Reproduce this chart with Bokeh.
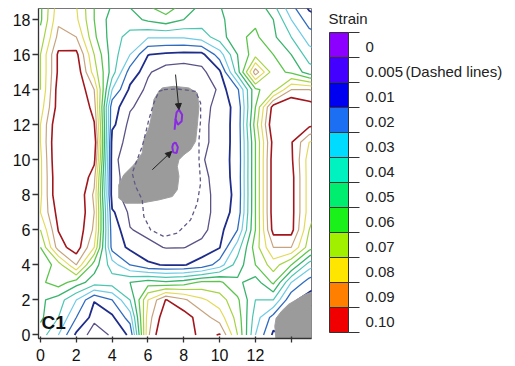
import numpy as np
from bokeh.plotting import figure
from bokeh.layouts import row
from bokeh.models import Range1d, FixedTicker, Arrow, NormalHead, ColumnDataSource, Label
from bokeh.core.properties import value
from bokeh.embed import file_html
from bokeh.resources import INLINE

# ---------------- data ----------------
x_grid = list(range(0, 17))
y_grid = list(range(0, 20))

# strain values at integer grid nodes, x = 0..16
row_y00 = [0.045, 0.030, 0.008, 0.003, 0.0055, 0.011, 0.088, 0.115, 0.110, 0.095, 0.101, 0.070, 0.030, 0.008, 0.012, 0.003, 0.003]
row_y01 = [0.052, 0.040, 0.020, 0.006, 0.008, 0.025, 0.085, 0.108, 0.105, 0.095, 0.085, 0.066, 0.035, 0.016, 0.0045, 0.003, 0.003]
row_y02 = [0.052, 0.045, 0.030, 0.0105, 0.020, 0.040, 0.080, 0.1005, 0.092, 0.082, 0.075, 0.062, 0.040, 0.040, 0.012, 0.006, 0.0055]
row_y03 = [0.058, 0.065, 0.055, 0.045, 0.045, 0.050, 0.055, 0.052, 0.055, 0.062, 0.062, 0.052, 0.045, 0.062, 0.030, 0.015, 0.010]
row_y04 = [0.052, 0.065, 0.090, 0.055, 0.035, 0.020, 0.011, 0.0095, 0.0095, 0.013, 0.025, 0.045, 0.060, 0.075, 0.060, 0.035, 0.025]
row_y05 = [0.060, 0.095, 0.106, 0.080, 0.016, 0.008, 0.006, 0.0048, 0.0049, 0.006, 0.0095, 0.035, 0.065, 0.090, 0.090, 0.065, 0.050]
row_y06 = [0.070, 0.1005, 0.108, 0.088, 0.014, 0.0052, 0.004, 0.003, 0.003, 0.004, 0.007, 0.020, 0.060, 0.104, 0.104, 0.070, 0.055]
row_y07 = [0.080, 0.104, 0.110, 0.090, 0.011, 0.004, 0.003, 0.002, 0.002, 0.004, 0.006, 0.013, 0.060, 0.106, 0.104, 0.075, 0.060]
row_y08 = [0.078, 0.110, 0.110, 0.088, 0.0058, 0.004, 0.002, 0.002, 0.002, 0.004, 0.006, 0.012, 0.060, 0.106, 0.104, 0.075, 0.060]
row_y09 = [0.078, 0.110, 0.115, 0.093, 0.0058, 0.004, 0.002, 0.002, 0.002, 0.004, 0.0065, 0.0125, 0.060, 0.106, 0.104, 0.075, 0.060]
row_y10 = [0.078, 0.112, 0.120, 0.103, 0.0055, 0.004, 0.003, 0.002, 0.0025, 0.0045, 0.0075, 0.012, 0.060, 0.106, 0.102, 0.075, 0.060]
row_y11 = [0.080, 0.112, 0.120, 0.108, 0.0065, 0.004, 0.002, 0.001, 0.001, 0.004, 0.0065, 0.0125, 0.060, 0.104, 0.101, 0.080, 0.070]
row_y12 = [0.080, 0.110, 0.118, 0.101, 0.0115, 0.0035, 0.002, 0.001, 0.001, 0.004, 0.0065, 0.0125, 0.065, 0.110, 0.112, 0.103, 0.097]
row_y13 = [0.075, 0.105, 0.115, 0.095, 0.013, 0.0055, 0.003, 0.002, 0.002, 0.004, 0.006, 0.0125, 0.060, 0.105, 0.112, 0.105, 0.101]
row_y14 = [0.070, 0.105, 0.110, 0.090, 0.030, 0.008, 0.004, 0.002, 0.002, 0.003, 0.0055, 0.018, 0.058, 0.066, 0.090, 0.090, 0.085]
row_y15 = [0.070, 0.102, 0.108, 0.075, 0.045, 0.015, 0.0055, 0.003, 0.003, 0.004, 0.008, 0.045, 0.096, 0.064, 0.058, 0.045, 0.040]
row_y16 = [0.070, 0.102, 0.103, 0.070, 0.045, 0.030, 0.0102, 0.008, 0.007, 0.007, 0.025, 0.050, 0.066, 0.060, 0.050, 0.035, 0.030]
row_y17 = [0.064, 0.093, 0.090, 0.062, 0.045, 0.036, 0.031, 0.031, 0.031, 0.035, 0.045, 0.058, 0.062, 0.052, 0.040, 0.025, 0.020]
row_y18 = [0.058, 0.088, 0.082, 0.060, 0.045, 0.046, 0.052, 0.056, 0.050, 0.045, 0.048, 0.055, 0.058, 0.050, 0.030, 0.015, 0.010]
row_y19 = [0.058, 0.085, 0.080, 0.060, 0.050, 0.052, 0.062, 0.070, 0.060, 0.050, 0.050, 0.052, 0.055, 0.040, 0.020, 0.005, 0.003]

levels = [0.005, 0.01, 0.02, 0.03, 0.04, 0.05, 0.06, 0.07, 0.08, 0.09, 0.10]
line_colors = ["#5b5288", "#1f2d8a", "#2f6cc0", "#6fcbe6", "#4cc6b2", "#38b46c",
               "#5cc64c", "#a6d444", "#e4da5a", "#c8a47e", "#a2161c"]
line_widths = [1.3, 1.8, 1.3, 1.2, 1.2, 1.3, 1.3, 1.2, 1.2, 1.2, 1.6]

# dashed 0.005 contour
dashed_x = [6.89, 7.64, 8.66, 8.94, 8.94, 8.85, 8.85, 8.94, 8.75, 8.38, 7.64, 6.89, 6.15, 5.77, 5.68,
            5.31, 5.12, 5.40, 5.68, 5.87, 6.05, 6.33, 6.61, 6.89]
dashed_y = [14.0, 14.04, 13.90, 13.24, 12.29, 11.14, 10.0, 8.67, 7.52, 6.57, 5.81, 5.62, 6.0, 6.76, 7.71,
            8.48, 9.24, 10.0, 10.76, 11.52, 12.29, 13.24, 13.90, 14.0]

# zero-strain loops
zero_a_x = [7.73, 7.91, 7.88, 7.67, 7.54, 7.60, 7.73]
zero_a_y = [12.86, 12.57, 12.19, 12.0, 12.32, 12.70, 12.86]
zero_tail_x = [7.54, 7.49]
zero_tail_y = [12.32, 11.71]
zero_b_x = [7.54, 7.67, 7.60, 7.41, 7.36, 7.41, 7.54]
zero_b_y = [10.99, 10.72, 10.38, 10.42, 10.72, 10.91, 10.99]

# grey areas
blob_c_x = [6.80, 7.45, 8.28, 8.75, 8.85, 8.75, 8.66, 8.38, 8.01, 7.73, 7.64, 7.73, 7.64, 7.36, 6.61,
            5.59, 4.75, 4.37, 4.37, 4.65, 5.21, 5.68, 5.77, 6.05, 6.24, 6.33, 6.61]
blob_c_y = [14.10, 14.19, 14.10, 13.81, 13.05, 11.90, 11.05, 10.57, 10.29, 10.0, 9.62, 9.05, 8.29, 7.90, 7.71,
            7.52, 7.52, 7.81, 8.57, 9.14, 9.71, 10.38, 11.14, 11.81, 12.67, 13.43, 13.90]
blob_r_x = [13.15, 13.08, 13.15, 13.45, 13.85, 14.35, 14.75, 15.3, 15.3]
blob_r_y = [-0.3, 0.5, 0.95, 1.35, 1.75, 2.05, 2.3, 2.5, -0.3]

# arrows
arrow_x0 = [7.54, 6.24]
arrow_y0 = [14.86, 9.43]
arrow_x1 = [7.73, 7.32]
arrow_y1 = [12.86, 10.47]

x_ticks = [0, 2, 4, 6, 8, 10, 12, 14]
y_ticks = [0, 2, 4, 6, 8, 10, 12, 14, 16, 18]

legend_labels = ["0", "0.005", "0.01", "0.02", "0.03", "0.04", "0.05", "0.06", "0.07", "0.08", "0.09", "0.10"]
legend_colors = ["#8b00ff", "#4400ff", "#0000f0", "#1c6ef2", "#00dcff", "#00f2c0",
                 "#00ee70", "#1af01a", "#a0f000", "#ffe600", "#ff7f00", "#f00000"]

FONT = "Liberation Sans"
H = 366
FRAME_TOP, FRAME_BOTTOM = 8, 338

# ---------------- main contour plot ----------------
z = np.array([row_y00, row_y01, row_y02, row_y03, row_y04, row_y05, row_y06, row_y07, row_y08, row_y09,
              row_y10, row_y11, row_y12, row_y13, row_y14, row_y15, row_y16, row_y17, row_y18, row_y19])

p = figure(width=320, height=H, x_range=Range1d(-0.11, 15.13), y_range=Range1d(-0.2, 18.63),
           output_backend="svg", toolbar_location=None,
           min_border_left=38, min_border_right=9, min_border_top=FRAME_TOP,
           min_border_bottom=H - FRAME_BOTTOM)
p.xgrid.visible = False
p.ygrid.visible = False
p.outline_line_color = "#777777"
p.background_fill_color = "white"

p.contour(x_grid, y_grid, z, levels, line_color=line_colors, line_width=line_widths)

p.patch(blob_c_x, blob_c_y, fill_color="#9b9b9b", line_color="#a0a0a0", line_width=1)
p.patch(blob_r_x, blob_r_y, fill_color="#9b9b9b", line_color="#a0a0a0", line_width=1)

p.line(dashed_x, dashed_y, line_color="#5f5a86", line_dash="4 3", line_width=1.3)
p.line(zero_a_x, zero_a_y, line_color="#8a2be2", line_width=2)
p.line(zero_tail_x, zero_tail_y, line_color="#8a2be2", line_width=2)
p.line(zero_b_x, zero_b_y, line_color="#8a2be2", line_width=2)

arrow_src = ColumnDataSource(dict(x0=arrow_x0, y0=arrow_y0, x1=arrow_x1, y1=arrow_y1))
p.add_layout(Arrow(end=NormalHead(size=6, fill_color="#222222", line_color="#222222"),
                   x_start="x0", y_start="y0", x_end="x1", y_end="y1",
                   source=arrow_src, line_color="#222222", line_width=1))

p.add_layout(Label(x=0.06, y=0.72, text="C1", text_font=FONT, text_font_size="19px",
                   text_font_style="bold", text_baseline="middle", text_color="#111111"))

p.xaxis.ticker = FixedTicker(ticks=x_ticks)
p.xaxis.major_label_overrides = {14: ""}
p.yaxis.ticker = FixedTicker(ticks=y_ticks)
for ax in (p.xaxis, p.yaxis):
    ax.major_label_text_font = FONT
    ax.major_label_text_font_size = "16px"
    ax.major_label_text_color = "#111111"
    ax.minor_tick_line_color = None
    ax.axis_line_color = "#333333"
    ax.axis_line_width = 1.3
    ax.major_tick_line_color = "#333333"
    ax.major_tick_line_width = 1.3
p.yaxis.major_tick_out = 6
p.yaxis.major_tick_in = 0
p.yaxis.major_label_standoff = 2
p.xaxis.major_tick_out = 4
p.xaxis.major_tick_in = 2
p.xaxis.major_label_standoff = 6

# ---------------- legend (colour key), in screen pixels ----------------
LW = 195
leg = figure(width=LW, height=H, x_range=Range1d(0, LW), y_range=Range1d(FRAME_BOTTOM, FRAME_TOP),
             output_backend="svg", toolbar_location=None,
             min_border_left=0, min_border_right=0, min_border_top=FRAME_TOP,
             min_border_bottom=H - FRAME_BOTTOM,
             x_axis_location=None, y_axis_location=None)
leg.xgrid.visible = False
leg.ygrid.visible = False
leg.outline_line_color = None

n = len(legend_labels)
bar_top, box_h = 32, 25
tops = [bar_top + box_h * i for i in range(n)]
bottoms = [t + box_h for t in tops]
leg.quad(left=9, right=28, top=tops, bottom=bottoms, fill_color=legend_colors,
         line_color="#333333", line_width=1)
bounds = [bar_top + box_h * i for i in range(n + 1)]
leg.segment(x0=28, x1=39, y0=bounds, y1=bounds, line_color="#333333", line_width=1.2)
centers = [t + box_h / 2 + 1.5 for t in tops]
leg.text(x=[45] * n, y=centers, text=legend_labels, text_font=value(FONT), text_font_size="15px",
         text_baseline="middle", text_color="#222222")
leg.text(x=[85], y=[centers[1]], text=["(Dashed lines)"], text_font=value(FONT), text_font_size="15px",
         text_baseline="middle", text_color="#222222")
leg.text(x=[8], y=[18], text=["Strain"], text_font=value(FONT), text_font_size="15px",
         text_baseline="middle", text_color="#222222")

layout = row(p, leg)
open("out.html", "w").write(file_html(layout, INLINE))
